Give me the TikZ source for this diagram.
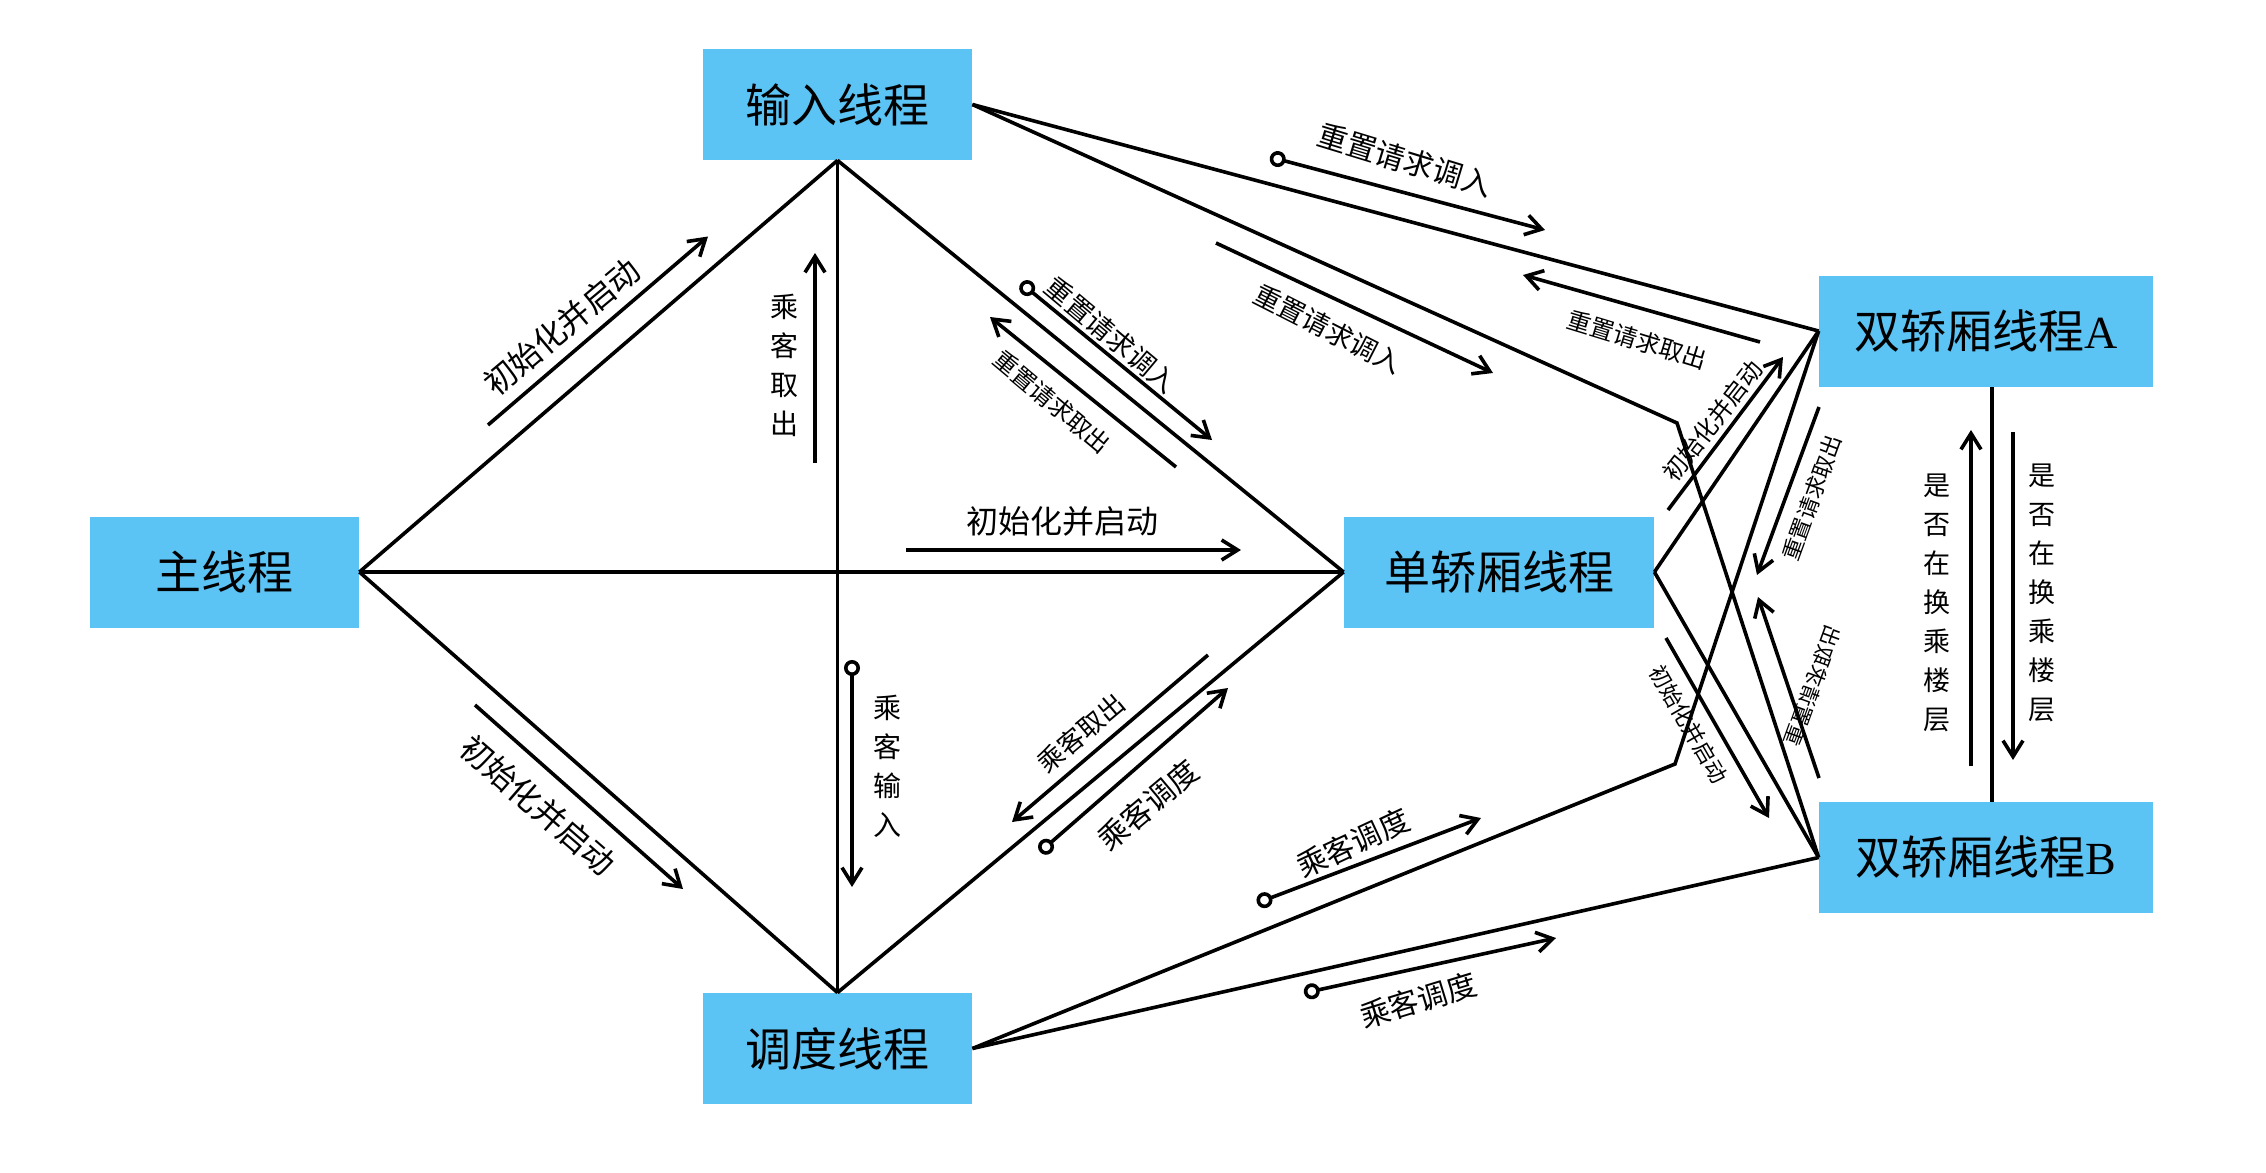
\documentclass[tikz,border=0pt]{standalone}
\usepackage{fontspec}
\setmainfont{Liberation Serif}
\newfontfamily\cjk{Noto Sans CJK SC}
\usetikzlibrary{arrows.meta}
\definecolor{threadblue}{HTML}{5BC4F5}

\begin{document}
\begin{tikzpicture}[
  x={(0.5pt,0pt)},
  y={(0pt,-0.5pt)},
  thread/.style={fill=threadblue, minimum width=134.5pt, minimum height=55.5pt,
    inner sep=0pt, font=\cjk\fontsize{23}{28}\selectfont},
  link/.style={line width=1.8pt},
  msg/.style={line width=1.8pt, -{Straight Barb[length=8pt,width=10pt]}},
  msgo/.style={line width=1.8pt,
    {Circle[open,length=8pt,width=8pt]}-{Straight Barb[length=8pt,width=10pt]}},
  note/.style={inner sep=0pt, align=center, font=\cjk\fontsize{#1}{19.5}\selectfont}
]
  \fill[white] (0,0) rectangle (2266,1173);

  % 线程
  \node[thread] (main) at (224.5,572) {主线程};
  \node[thread] (input) at (837.5,104.5) {输入线程};
  \node[thread] (dispatch) at (837.5,1048.5) {调度线程};
  \node[thread, minimum width=155pt] (single) at (1499,572) {单轿厢线程};
  \node[thread, minimum width=167pt] (dualA) at (1986,331) {双轿厢线程{\rmfamily A}};
  \node[thread, minimum width=167pt] (dualB) at (1986,857.5) {双轿厢线程{\rmfamily B}};

  % 连线
  \coordinate (bendA) at (1677,423);
  \coordinate (bendB) at (1675,764);
  \draw[link] (main.east) -- (input.south);
  \draw[link] (main.east) -- (dispatch.north);
  \draw[link] (main.east) -- (single.west);
  \draw[link] (input.south) -- (dispatch.north);
  \draw[link] (input.south) -- (single.west);
  \draw[link] (dispatch.north) -- (single.west);
  \draw[link] (input.east) -- (dualA.west);
  \draw[link] (input.east) -- (bendA) -- (dualB.west);
  \draw[link] (dispatch.east) -- (bendB) -- (dualA.west);
  \draw[link] (dispatch.east) -- (dualB.west);
  \draw[link] (single.east) -- (dualA.west);
  \draw[link] (single.east) -- (dualB.west);
  \draw[link] ([xshift=3pt]dualA.south) -- ([xshift=3pt]dualB.north);

  % 消息箭头
  \coordinate (m1s) at (488,425);    \coordinate (m1e) at (708,236.5);
  \coordinate (m2s) at (475,705);    \coordinate (m2e) at (683,889);
  \coordinate (m3s) at (815,463);    \coordinate (m3e) at (815,253);
  \coordinate (m4s) at (852,660);    \coordinate (m4e) at (852,887);
  \coordinate (m5s) at (1021,283);   \coordinate (m5e) at (1212,440);
  \coordinate (m6s) at (1176,467);   \coordinate (m6e) at (990,317);
  \coordinate (m7s) at (906,550);    \coordinate (m7e) at (1241,550);
  \coordinate (m8s) at (1208,655);   \coordinate (m8e) at (1012,822);
  \coordinate (m9s) at (1040,852);   \coordinate (m9e) at (1228,688);
  \coordinate (m10s) at (1257,903);  \coordinate (m10e) at (1481,818);
  \coordinate (m11s) at (1304,993);  \coordinate (m11e) at (1556,938);
  \coordinate (m12s) at (1270,157);  \coordinate (m12e) at (1545,230);
  \coordinate (m13s) at (1760,342);  \coordinate (m13e) at (1523,275);
  \coordinate (m14s) at (1216,243);  \coordinate (m14e) at (1493,373);
  \coordinate (m15s) at (1668,510);  \coordinate (m15e) at (1783,357);
  \coordinate (m16s) at (1819,407);  \coordinate (m16e) at (1757,575);
  \coordinate (m17s) at (1819,778);  \coordinate (m17e) at (1758,597);
  \coordinate (m18s) at (1666,638);  \coordinate (m18e) at (1769,818);
  \coordinate (m19s) at (1971,766);  \coordinate (m19e) at (1971,430);
  \coordinate (m20s) at (2013,432);  \coordinate (m20e) at (2013,760);

  \draw[msg] (m1s) -- (m1e);
  \draw[msg] (m2s) -- (m2e);
  \draw[msg] (m3s) -- (m3e);
  \draw[msgo] (m4s) -- (m4e);
  \draw[msgo] (m5s) -- (m5e);
  \draw[msg] (m6s) -- (m6e);
  \draw[msg] (m7s) -- (m7e);
  \draw[msg] (m8s) -- (m8e);
  \draw[msgo] (m9s) -- (m9e);
  \draw[msgo] (m10s) -- (m10e);
  \draw[msgo] (m11s) -- (m11e);
  \draw[msgo] (m12s) -- (m12e);
  \draw[msg] (m13s) -- (m13e);
  \draw[msg] (m14s) -- (m14e);
  \draw[msg] (m15s) -- (m15e);
  \draw[msg] (m16s) -- (m16e);
  \draw[msg] (m17s) -- (m17e);
  \draw[msg] (m18s) -- (m18e);
  \draw[msg] (m19s) -- (m19e);
  \draw[msg] (m20s) -- (m20e);

  % 标注
  \node[note=16, rotate=40] (n1) at (562,327) {初始化并启动};
  \node[note=16, rotate=-41] (n2) at (538,805) {初始化并启动};
  \node[note=14] (n3) at (784,365) {乘\\客\\取\\出};
  \node[note=14] (n4) at (887,766) {乘\\客\\输\\入};
  \node[note=13.5, rotate=-40] (n5) at (1111,335) {重置请求调入};
  \node[note=12, rotate=-40] (n6) at (1052,402) {重置请求取出};
  \node[note=16] (n7) at (1062,521) {初始化并启动};
  \node[note=13, rotate=40] (n8) at (1081,733) {乘客取出};
  \node[note=15, rotate=40] (n9) at (1148,805) {乘客调度};
  \node[note=15, rotate=25] (n10) at (1353,843) {乘客调度};
  \node[note=15, rotate=17] (n11) at (1418,1000) {乘客调度};
  \node[note=15, rotate=-17] (n12) at (1405,160) {重置请求调入};
  \node[note=12, rotate=-17] (n13) at (1637,340) {重置请求取出};
  \node[note=13.5, rotate=-27] (n14) at (1328,329) {重置请求调入};
  \node[note=12, rotate=52] (n15) at (1713,421) {初始化并启动};
  \node[note=11, rotate=70] (n16) at (1812,498) {重置请求取出};
  \node[note=10.5, rotate=70, yscale=-1] (n17) at (1813,686) {重置请求取出};
  \node[note=11, rotate=-60] (n18) at (1689,724) {初始化并启动};
  \node[note=13.5] (n19) at (1937,603) {是\\否\\在\\换\\乘\\楼\\层};
  \node[note=13.5] (n20) at (2042,593) {是\\否\\在\\换\\乘\\楼\\层};
\end{tikzpicture}
\end{document}
